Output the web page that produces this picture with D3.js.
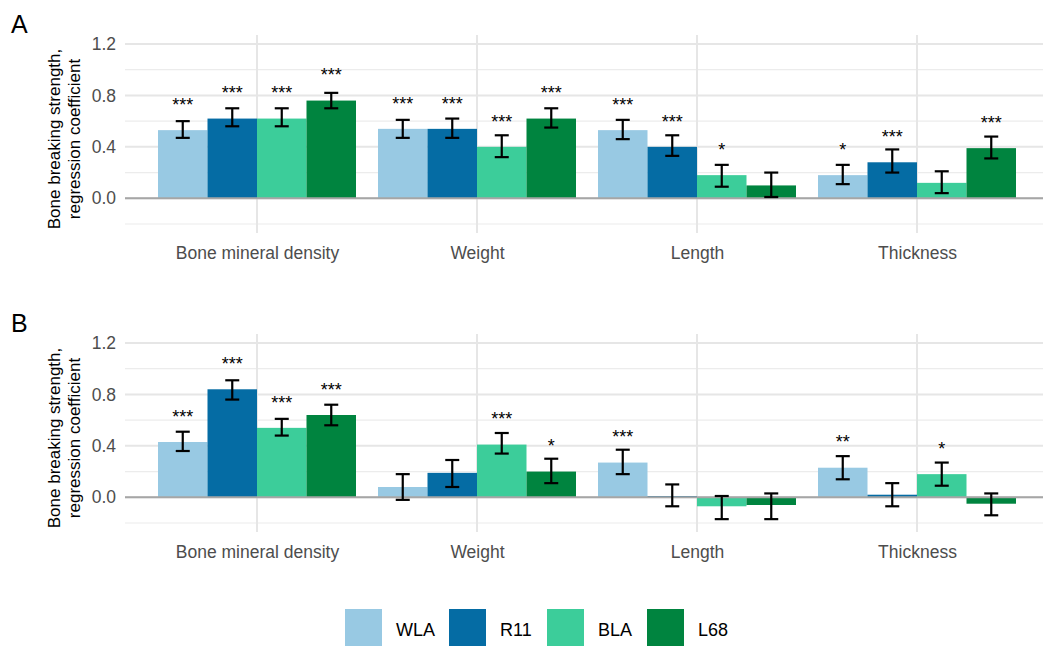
<!DOCTYPE html>
<html>
<head>
<meta charset="utf-8">
<script src="https://cdn.jsdelivr.net/npm/d3@7"></script>
<style>
  html, body { margin: 0; padding: 0; background: #fff; }
  svg { display: block; font-family: "Liberation Sans", Arial, sans-serif; }
</style>
</head>
<body>
<svg id="chart" width="1043" height="646"></svg>
<script>
// Traits on the x axis and the four lines compared within each trait
const categories = ["Bone mineral density", "Weight", "Length", "Thickness"];
const groups = ["WLA", "R11", "BLA", "L68"];
const groupColors = ["#98c9e3", "#056ca4", "#3ccd9a", "#00843f"];
const yTicks = [0.0, 0.4, 0.8, 1.2];
const yMinorTicks = [-0.2, 0.2, 0.6, 1.0];

// Panel A: regression coefficients, CI bounds and significance per line
const wlaA = [0.53, 0.54, 0.53, 0.18];
const wlaALow = [0.47, 0.47, 0.46, 0.11];
const wlaAHigh = [0.60, 0.61, 0.61, 0.26];
const wlaAStars = ["***", "***", "***", "*"];

const r11A = [0.62, 0.54, 0.40, 0.28];
const r11ALow = [0.56, 0.47, 0.33, 0.20];
const r11AHigh = [0.70, 0.62, 0.49, 0.38];
const r11AStars = ["***", "***", "***", "***"];

const blaA = [0.62, 0.40, 0.18, 0.12];
const blaALow = [0.56, 0.32, 0.09, 0.04];
const blaAHigh = [0.70, 0.49, 0.26, 0.21];
const blaAStars = ["***", "***", "*", ""];

const l68A = [0.76, 0.62, 0.10, 0.39];
const l68ALow = [0.70, 0.55, 0.01, 0.31];
const l68AHigh = [0.82, 0.70, 0.20, 0.48];
const l68AStars = ["***", "***", "", "***"];

// Panel B
const wlaB = [0.43, 0.08, 0.27, 0.23];
const wlaBLow = [0.36, -0.02, 0.18, 0.14];
const wlaBHigh = [0.51, 0.18, 0.37, 0.32];
const wlaBStars = ["***", "", "***", "**"];

const r11B = [0.84, 0.19, 0.01, 0.02];
const r11BLow = [0.76, 0.08, -0.07, -0.07];
const r11BHigh = [0.91, 0.29, 0.10, 0.11];
const r11BStars = ["***", "", "", ""];

const blaB = [0.54, 0.41, -0.07, 0.18];
const blaBLow = [0.48, 0.34, -0.17, 0.09];
const blaBHigh = [0.61, 0.50, 0.01, 0.27];
const blaBStars = ["***", "***", "", "*"];

const l68B = [0.64, 0.20, -0.06, -0.05];
const l68BLow = [0.56, 0.11, -0.17, -0.14];
const l68BHigh = [0.72, 0.30, 0.03, 0.03];
const l68BStars = ["***", "*", "", ""];

function rows(est, low, high, stars) {
  const out = [];
  groups.forEach((g, gi) => {
    categories.forEach((c, ci) => {
      out.push({ cat: c, group: g, color: groupColors[gi],
        value: est[gi][ci], low: low[gi][ci], high: high[gi][ci], stars: stars[gi][ci] });
    });
  });
  return out;
}

const panelA = rows([wlaA, r11A, blaA, l68A], [wlaALow, r11ALow, blaALow, l68ALow],
  [wlaAHigh, r11AHigh, blaAHigh, l68AHigh], [wlaAStars, r11AStars, blaAStars, l68AStars]);
const panelB = rows([wlaB, r11B, blaB, l68B], [wlaBLow, r11BLow, blaBLow, l68BLow],
  [wlaBHigh, r11BHigh, blaBHigh, l68BHigh], [wlaBStars, r11BStars, blaBStars, l68BStars]);

const svg = d3.select("#chart");

// Shared x layout: category centres, dodged bars within each
const x = d3.scalePoint().domain(categories).range([257, 917]);
const step = x.step();
const xInner = d3.scaleBand().domain(groups).range([-0.45 * step, 0.45 * step]);
const plotLeft = x(categories[0]) - 0.6 * step;
const plotRight = x(categories[categories.length - 1]) + 0.6 * step;

const STAR_GAP = 0.15; // star label baseline sits this far above the bar top

function drawPanel(letter, data, top) {
  const plotTop = top + 35, plotBottom = top + 233;
  const y = d3.scaleLinear().domain([-0.27, 1.27]).range([plotBottom, plotTop]);
  const g = svg.append("g");

  // minor horizontal grid
  g.selectAll(".minor").data(yMinorTicks).join("line")
    .attr("x1", plotLeft).attr("x2", plotRight)
    .attr("y1", d => y(d)).attr("y2", d => y(d))
    .attr("stroke", "#ececec").attr("stroke-width", 1.2);
  // major horizontal grid
  g.selectAll(".major").data(yTicks).join("line")
    .attr("x1", plotLeft).attr("x2", plotRight)
    .attr("y1", d => y(d)).attr("y2", d => y(d))
    .attr("stroke", "#e6e6e6").attr("stroke-width", 2);
  // vertical grid at category centres
  g.selectAll(".vgrid").data(categories).join("line")
    .attr("x1", d => x(d)).attr("x2", d => x(d))
    .attr("y1", plotTop).attr("y2", plotBottom)
    .attr("stroke", "#e6e6e6").attr("stroke-width", 2);

  // y tick labels
  const yAxis = d3.axisLeft(y).tickValues(yTicks).tickFormat(d3.format(".1f")).tickSize(0).tickPadding(0);
  const ax = g.append("g").attr("transform", `translate(${plotLeft - 9},0)`).call(yAxis);
  ax.select(".domain").remove();
  ax.selectAll("text").attr("font-size", 17.5).attr("fill", "#4d4d4d")
    .attr("font-family", "'Liberation Sans', Arial, sans-serif");

  // x category labels
  const xAxis = d3.axisBottom(x).tickSize(0).tickPadding(0);
  const bx = g.append("g").attr("transform", `translate(0,${plotBottom + 14})`).call(xAxis);
  bx.select(".domain").remove();
  bx.selectAll("text").attr("font-size", 17.5).attr("fill", "#4d4d4d")
    .attr("font-family", "'Liberation Sans', Arial, sans-serif");

  // bars
  const bw = xInner.bandwidth();
  g.selectAll(".bar").data(data).join("rect")
    .attr("x", d => x(d.cat) + xInner(d.group))
    .attr("width", bw)
    .attr("y", d => y(Math.max(0, d.value)))
    .attr("height", d => Math.abs(y(d.value) - y(0)))
    .attr("fill", d => d.color);

  // zero reference line
  g.append("line")
    .attr("x1", plotLeft).attr("x2", plotRight)
    .attr("y1", y(0)).attr("y2", y(0))
    .attr("stroke", "#a6a6a6").attr("stroke-width", 2);

  // error bars
  const cap = 7;
  const eb = g.selectAll(".err").data(data).join("g")
    .attr("transform", d => `translate(${x(d.cat) + xInner(d.group) + bw / 2},0)`)
    .attr("stroke", "#000").attr("stroke-width", 2.2);
  eb.append("line").attr("y1", d => y(d.low)).attr("y2", d => y(d.high));
  eb.append("line").attr("x1", -cap).attr("x2", cap).attr("y1", d => y(d.low)).attr("y2", d => y(d.low));
  eb.append("line").attr("x1", -cap).attr("x2", cap).attr("y1", d => y(d.high)).attr("y2", d => y(d.high));

  // significance stars
  g.selectAll(".star").data(data.filter(d => d.stars)).join("text")
    .attr("x", d => x(d.cat) + xInner(d.group) + bw / 2)
    .attr("y", d => y(d.value + STAR_GAP))
    .attr("text-anchor", "middle")
    .attr("font-size", 18).attr("fill", "#000")
    .text(d => d.stars);

  // axis title
  const midY = top + 139;
  const t = g.append("text")
    .attr("transform", `translate(60,${midY}) rotate(-90)`)
    .attr("text-anchor", "middle").attr("font-size", 17).attr("fill", "#000");
  t.append("tspan").attr("x", 0).attr("y", 0).text("Bone breaking strength,");
  t.append("tspan").attr("x", 0).attr("y", 19.5).text("regression coefficient");

  // panel letter
  g.append("text").attr("x", 11).attr("y", top + 33)
    .attr("font-size", 25).attr("fill", "#000").text(letter);
}

drawPanel("A", panelA, 0);
drawPanel("B", panelB, 299);

// legend
const legend = svg.append("g");
const legendX = [345, 449, 547, 647];
groups.forEach((gname, i) => {
  legend.append("rect").attr("x", legendX[i]).attr("y", 609).attr("width", 37).attr("height", 37)
    .attr("fill", groupColors[i]);
  legend.append("text").attr("x", legendX[i] + 51).attr("y", 636)
    .attr("font-size", 18).attr("fill", "#000").text(gname);
});
</script>
</body>
</html>
